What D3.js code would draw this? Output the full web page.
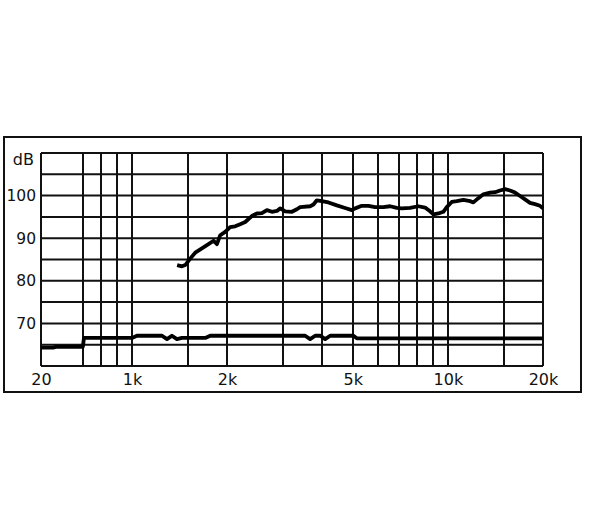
<!DOCTYPE html>
<html>
<head>
<meta charset="utf-8">
<script src="https://cdn.jsdelivr.net/npm/d3@7"></script>
<style>
  body { margin: 0; background: #fff; }
  svg { display: block; }
  .tick text { font-family: "DejaVu Sans", Verdana, sans-serif; fill: #111; }
</style>
</head>
<body>
<div id="chart"></div>
<script>
// Frequency grid (Hz); the band 20..700 is squeezed into the first cell
var gridFreqs = [20, 700, 800, 900, 1000, 1500, 2000, 3000, 4000, 5000, 6000, 7000, 8000, 9000, 10000, 15000, 20000];
var gridDb = [60, 65, 70, 75, 80, 85, 90, 95, 100, 105, 110];

var xTickValues = [20, 1000, 2000, 5000, 10000, 20000];
var xTickLabels = ["20", "1k", "2k", "5k", "10k", "20k"];
var yTickValues = [70, 80, 90, 100];
var yUnit = "dB";

// Upper curve (sensitivity)
var upperFreq = [1390, 1440, 1475, 1529, 1586, 1665, 1747, 1813, 1858, 1903, 1973, 2046, 2122, 2201, 2283,
  2396, 2486, 2578, 2674, 2774, 2876, 2947, 3055, 3208, 3327, 3408, 3665, 3754, 3848, 3991, 4188, 4452,
  4729, 4965, 5087, 5341, 5604, 5884, 6251, 6563, 6892, 7147, 7592, 8064, 8468, 8782, 8997, 9330, 9676,
  9918, 10285, 10668, 11193, 11754, 12041, 12487, 12950, 13598, 14102, 14622, 15164, 15725, 16315,
  16920, 17546, 18195, 18869, 19566, 20000];
var upperDb = [83.7, 83.4, 83.7, 85.2, 86.6, 87.6, 88.6, 89.4, 88.6, 90.7, 91.5, 92.6, 92.8, 93.3, 93.8,
  95.2, 95.8, 95.9, 96.6, 96.2, 96.4, 97.0, 96.3, 96.2, 96.8, 97.3, 97.5, 97.9, 98.9, 98.7, 98.4, 97.7,
  97.1, 96.6, 97.0, 97.6, 97.6, 97.3, 97.3, 97.5, 97.1, 97.0, 97.1, 97.5, 97.2, 96.3, 95.6, 95.8, 96.2,
  97.3, 98.5, 98.7, 99.0, 98.7, 98.4, 99.4, 100.3, 100.7, 100.8, 101.2, 101.5, 101.2, 100.7,
  99.9, 99.1, 98.3, 98.0, 97.6, 97.0];

// Lower curve
var lowerFreq = [20, 55, 70, 690, 705, 1000, 1037, 1245, 1291, 1338, 1388, 1440, 1706, 1769, 3534, 3665,
  3801, 3950, 4088, 4240, 5023, 5149, 20000];
var lowerDb = [64.3, 64.3, 64.5, 64.5, 66.6, 66.6, 67.1, 67.1, 66.3, 67.1, 66.3, 66.6, 66.6, 67.1, 67.1, 66.3,
  67.1, 67.1, 66.3, 67.1, 67.1, 66.5, 66.5];

var W = 591, H = 531;
var margin = { top: 153, left: 41 },
    width = 502,
    height = 213;

var svg = d3.select("#chart").append("svg")
    .attr("width", W)
    .attr("height", H);

// outer frame
svg.append("rect")
    .attr("x", 4).attr("y", 137)
    .attr("width", 577).attr("height", 255)
    .attr("fill", "none")
    .attr("stroke", "#111")
    .attr("stroke-width", 2);

var g = svg.append("g")
    .attr("transform", "translate(" + margin.left + "," + margin.top + ")");

// piecewise log scale: 20..700 squeezed, 700..20k regular log
var x = d3.scaleLog().domain([20, 700, 20000]).range([0, 42, width]);
var y = d3.scaleLinear().domain([60, 110]).range([height, 0]);

// grid
g.selectAll(".vgrid")
    .data(gridFreqs)
    .enter().append("line")
    .attr("x1", function (d) { return Math.round(x(d)); })
    .attr("x2", function (d) { return Math.round(x(d)); })
    .attr("y1", 0).attr("y2", height)
    .attr("stroke", "#111").attr("stroke-width", 2);

g.selectAll(".hgrid")
    .data(gridDb)
    .enter().append("line")
    .attr("x1", 0).attr("x2", width)
    .attr("y1", function (d) { return y(d); })
    .attr("y2", function (d) { return y(d); })
    .attr("stroke", "#111").attr("stroke-width", 2);

// axes (labels only)
var xAxis = g.append("g")
    .attr("transform", "translate(0," + height + ")")
    .call(d3.axisBottom(x).tickValues(xTickValues)
        .tickFormat(function (d, i) { return xTickLabels[i]; })
        .tickSize(0).tickPadding(8));
xAxis.select(".domain").remove();
xAxis.selectAll("text").style("font-size", "16px");

var yAxis = g.append("g")
    .call(d3.axisLeft(y).tickValues(yTickValues).tickSize(0).tickPadding(5));
yAxis.select(".domain").remove();
yAxis.selectAll("text").style("font-size", "15.5px");

g.append("text")
    .attr("x", -7)
    .attr("y", y(110) + 12)
    .attr("text-anchor", "end")
    .style("font-family", "'DejaVu Sans', Verdana, sans-serif")
    .style("font-size", "16px")
    .attr("fill", "#111")
    .text(yUnit);

// curves
var line = d3.line()
    .x(function (d) { return x(d[0]); })
    .y(function (d) { return y(d[1]); });

g.append("path")
    .datum(d3.zip(lowerFreq, lowerDb))
    .attr("d", line)
    .attr("fill", "none")
    .attr("stroke", "#000")
    .attr("stroke-width", 3.8)
    .attr("stroke-linejoin", "round");

g.append("path")
    .datum(d3.zip(upperFreq, upperDb))
    .attr("d", line)
    .attr("fill", "none")
    .attr("stroke", "#000")
    .attr("stroke-width", 3.8)
    .attr("stroke-linejoin", "round");
</script>
</body>
</html>
